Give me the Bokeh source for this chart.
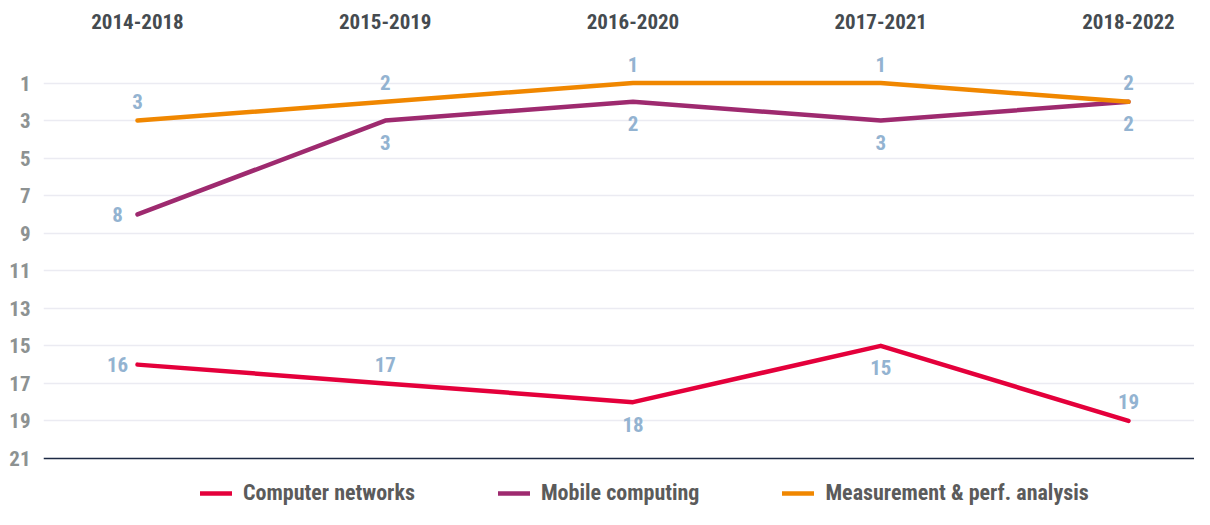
from bokeh.plotting import figure
from bokeh.models import (ColumnDataSource, Range1d, LinearAxis, FixedTicker,
                          Legend, LegendItem, Span)
from bokeh.core.properties import value
from bokeh.embed import file_html
from bokeh.resources import INLINE

# ---- data ----
periods = ["2014-2018", "2015-2019", "2016-2020", "2017-2021", "2018-2022"]
computer_networks = [16, 17, 18, 15, 19]
mobile_computing = [8, 3, 2, 3, 2]
measurement_perf = [3, 2, 1, 1, 2]
rank_ticks = [1, 3, 5, 7, 9, 11, 13, 15, 17, 19, 21]

series_names = ["Computer networks", "Mobile computing", "Measurement & perf. analysis"]
series_values = [computer_networks, mobile_computing, measurement_perf]

# ---- styles ----
colors = ["#e4003b", "#9e2a6f", "#f08700"]
label_pos = [
    ["left", "above", "below", "below", "above"],
    ["left", "below", "below", "below", "below"],
    ["above", "above", "above", "above", "above"],
]
offsets = {"above": (0, -19), "below": (0, 22), "left": (-20, 0)}
FONT = "'Roboto Condensed', 'DejaVu Sans Condensed', 'Liberation Sans Narrow', 'Open Sans', sans-serif"
label_color = "#93b3d1"

p = figure(width=1194, height=509, output_backend="svg", toolbar_location=None,
           x_range=Range1d(-0.3794, 4.2664), y_range=Range1d(23.716, -0.731),
           x_axis_location=None, y_axis_location="left",
           min_border_left=43, min_border_right=0, min_border_top=50,
           min_border_bottom=0)
p.outline_line_color = None
p.background_fill_color = "white"
p.border_fill_color = "white"

# top category axis
top_axis = LinearAxis(ticker=FixedTicker(ticks=list(range(len(periods)))),
                      major_label_overrides={i: s for i, s in enumerate(periods)})
top_axis.axis_line_color = None
top_axis.major_tick_line_color = None
top_axis.minor_tick_line_color = None
top_axis.major_tick_out = 0
top_axis.major_tick_in = 0
top_axis.major_label_standoff = 22
top_axis.major_label_text_font = FONT
top_axis.major_label_text_font_style = "bold"
top_axis.major_label_text_font_size = "21px"
top_axis.major_label_text_color = "#454b50"
p.add_layout(top_axis, "above")

yax = p.yaxis[0]
yax.ticker = FixedTicker(ticks=rank_ticks)
yax.axis_line_color = None
yax.major_tick_line_color = None
yax.minor_tick_line_color = None
yax.major_tick_out = 0
yax.major_tick_in = 0
yax.major_label_standoff = 13
yax.major_label_text_font = FONT
yax.major_label_text_font_style = "bold"
yax.major_label_text_font_size = "21px"
yax.major_label_text_color = "#8d9292"

p.xgrid.visible = False
p.ygrid.ticker = FixedTicker(ticks=rank_ticks[:-1])
p.ygrid.grid_line_color = "#ebebf2"
p.ygrid.grid_line_width = 1.5

# baseline at last rank tick
p.add_layout(Span(location=rank_ticks[-1], dimension="width",
                  line_color="#1d2a44", line_width=1.5))

xs = list(range(len(periods)))
items = []
for name, vals, col, pos in zip(series_names, series_values, colors, label_pos):
    r = p.line(xs, vals, line_color=col, line_width=4.5, line_cap="round", line_join="round")
    src = ColumnDataSource(dict(
        x=xs, y=vals, t=[str(v) for v in vals],
        xo=[offsets[q][0] for q in pos], yo=[offsets[q][1] for q in pos]))
    p.text(x="x", y="y", text="t", source=src, x_offset="xo", y_offset="yo",
           text_align="center", text_baseline="middle",
           text_font=value(FONT), text_font_style="bold",
           text_font_size="21px", text_color=label_color)
    items.append(LegendItem(label=name, renderers=[r]))

legend = Legend(items=items, orientation="horizontal", location=(157, 4),
                glyph_width=32, glyph_height=20, label_standoff=11, spacing=83,
                padding=0, margin=0, border_line_color=None,
                background_fill_alpha=0,
                label_text_font=FONT, label_text_font_style="bold",
                label_text_font_size="22px", label_text_color="#5b5b5b")
p.add_layout(legend)

open("out.html", "w").write(file_html(p, INLINE))
